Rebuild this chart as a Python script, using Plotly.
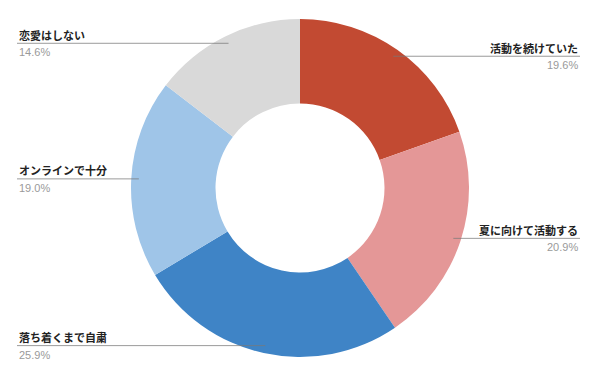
import math
import plotly.graph_objects as go

labels = ["活動を続けていた", "夏に向けて活動する", "落ち着くまで自粛", "オンラインで十分", "恋愛はしない"]
values = [19.6, 20.9, 25.9, 19.0, 14.6]
colors = ["#C24A32", "#E49797", "#3F84C6", "#9FC5E8", "#D9D9D9"]

W, H = 600, 376
CX, CY, R = 300, 188, 169

fig = go.Figure(go.Pie(
    labels=labels, values=values, sort=False, direction="clockwise", rotation=0,
    hole=0.5, marker=dict(colors=colors, line=dict(width=0)),
    textinfo="none", hoverinfo="label+percent", showlegend=False,
    domain=dict(x=[(CX - R) / W, (CX + R) / W], y=[(H - CY - R) / H, (H - CY + R) / H]),
))

total = sum(values)
cum = 0
shapes, annotations = [], []
for lab, v in zip(labels, values):
    mid = (cum + v / 2) / total * 2 * math.pi
    cum += v
    r = 0.955 * R
    ax = CX + r * math.sin(mid)
    ay = CY - r * math.cos(mid)
    right = math.sin(mid) > 0
    edge = 580 if right else 17
    shapes.append(dict(type="line", xref="paper", yref="paper",
                       x0=ax / W, x1=edge / W, y0=1 - ay / H, y1=1 - ay / H,
                       line=dict(color="rgba(120,120,120,0.75)", width=1)))
    anchor = "right" if right else "left"
    annotations.append(dict(xref="paper", yref="paper", x=edge / W, y=1 - (ay - 8.5) / H,
                            text="<b>" + lab + "</b>", showarrow=False, xanchor=anchor, yanchor="middle",
                            font=dict(size=11, color="#222222", family="Noto Sans CJK JP")))
    annotations.append(dict(xref="paper", yref="paper", x=edge / W, y=1 - (ay + 9) / H,
                            text=f"{v:.1f}%", showarrow=False, xanchor=anchor, yanchor="middle",
                            font=dict(size=11, color="#9A9A9A", family="Arial, Liberation Sans")))

fig.update_layout(width=W, height=H, margin=dict(l=0, r=0, t=0, b=0),
                  paper_bgcolor="white", plot_bgcolor="white",
                  shapes=shapes, annotations=annotations)
fig.write_html("out.html")
